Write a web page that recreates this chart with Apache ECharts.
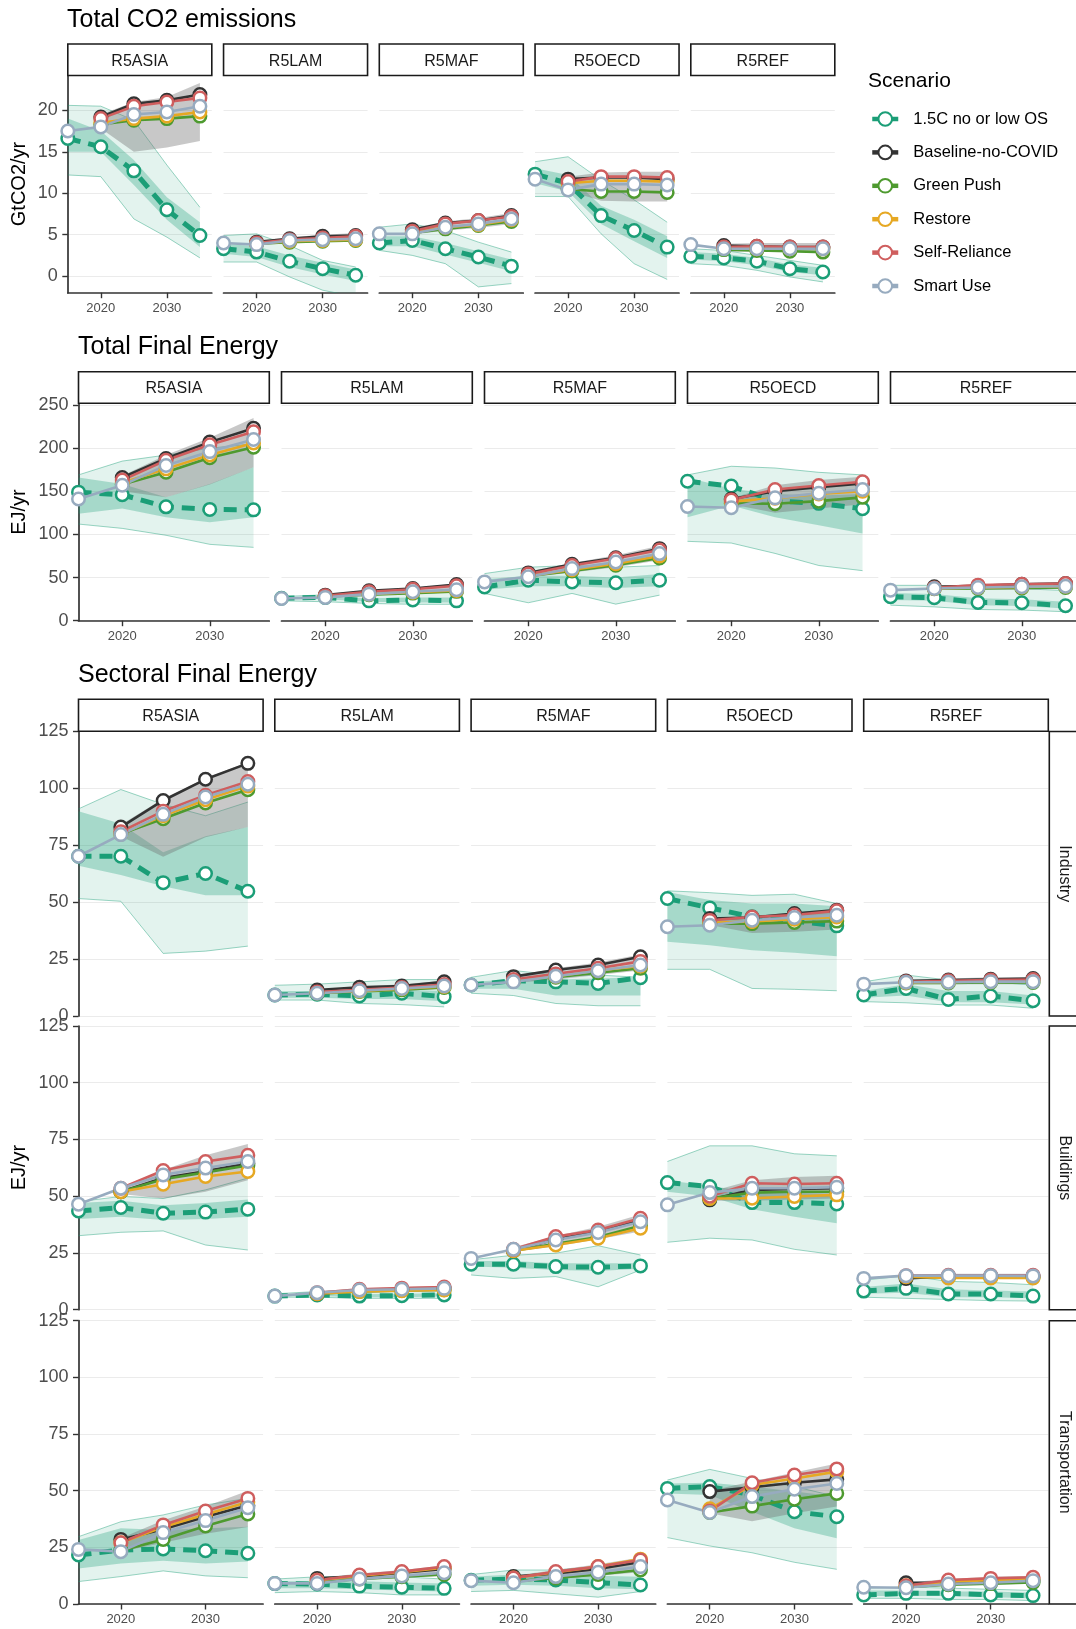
<!DOCTYPE html>
<html><head><meta charset="utf-8">
<script src="https://cdn.jsdelivr.net/npm/echarts@6/dist/echarts.min.js"></script>
<style>html,body{margin:0;padding:0;background:#fff}#chart{width:1076px;height:1629px}</style>
</head><body><div id="chart"></div>
<script>
// ---------------- data ----------------
const YEARS = [2015, 2020, 2025, 2030, 2035];
const REGIONS = ['R5ASIA', 'R5LAM', 'R5MAF', 'R5OECD', 'R5REF'];
const SCENARIOS = ['1.5C no or low OS', 'Baseline-no-COVID', 'Green Push', 'Restore', 'Self-Reliance', 'Smart Use'];
const SECTORS = ['Industry', 'Buildings', 'Transportation'];
const X_TICKS = [2020, 2030];
const CO2_TICKS = [0, 5, 10, 15, 20];
const TFE_TICKS = [0, 50, 100, 150, 200, 250];
const SEC_TICKS = [0, 25, 50, 75, 100, 125];
const N = null;

// Total CO2 emissions (GtCO2/yr), rows = regions, cols = YEARS
const CO2_P15 = [[16.6,15.6,12.7,8.0,4.9],[3.3,2.9,1.8,0.9,0.1],[4.0,4.3,3.3,2.3,1.2],[12.3,11.2,7.3,5.5,3.5],[2.4,2.2,1.8,0.9,0.5]];
const CO2_BASE = [[N,19.2,20.8,21.2,21.9],[N,4.1,4.5,4.8,4.9],[N,5.6,6.4,6.7,7.3],[N,11.7,11.9,11.9,11.7],[N,3.7,3.6,3.5,3.5]];
const CO2_GREEN = [[N,18.3,18.8,19.0,19.3],[N,3.9,4.1,4.2,4.3],[N,5.2,5.7,6.1,6.6],[N,10.5,10.2,10.2,10.1],[N,3.2,3.1,3.0,2.9]];
const CO2_RESTORE = [[N,18.5,19.0,19.3,19.8],[N,3.9,4.2,4.3,4.4],[N,5.3,5.9,6.2,6.8],[N,11.2,11.5,11.5,11.4],[N,3.4,3.3,3.3,3.3]];
const CO2_SELF = [[N,19.0,20.5,21.0,21.5],[N,4.0,4.4,4.6,4.8],[N,5.4,6.3,6.7,7.2],[N,11.4,12.0,12.0,11.9],[N,3.5,3.6,3.5,3.5]];
const CO2_SMART = [[17.5,18.0,19.5,19.8,20.5],[4.0,3.8,4.3,4.4,4.5],[5.1,5.1,5.9,6.3,6.9],[11.7,10.4,11.1,11.1,11.0],[3.8,3.3,3.3,3.3,3.3]];
const CO2_OUT_LO = [[12.2,12.0,6.9,4.7,2.2],[1.7,1.7,-0.1,-1.7,-2.5],[3.1,2.5,1.5,-1.3,-0.9],[9.6,9.6,5.1,1.5,-0.4],[1.5,1.3,0.7,-0.1,-0.7]];
const CO2_OUT_HI = [[20.6,20.5,18.8,13.4,8.3],[4.9,5.1,3.7,1.9,1.1],[5.9,6.3,5.5,4.1,2.9],[13.8,14.4,11.6,9.2,6.5],[3.3,3.1,2.5,1.9,1.3]];
const CO2_IN_LO = [[15.0,15.0,11.0,6.8,3.5],[2.7,2.3,1.1,0.2,-0.6],[3.6,3.6,2.6,1.6,0.6],[11.2,10.2,6.3,4.2,2.2],[2.0,1.8,1.3,0.5,0.1]];
const CO2_IN_HI = [[19.0,17.5,14.0,9.5,6.5],[3.9,3.6,2.5,1.6,0.8],[4.8,4.8,4.0,3.0,2.0],[13.0,12.2,8.5,6.8,4.8],[2.9,2.7,2.2,1.4,1.0]];
const CO2_GREY_LO = [[N,17.8,15.0,15.5,16.3],[N,3.7,4.0,4.1,4.2],[N,5.0,5.5,5.8,6.3],[N,10.3,9.1,9.0,9.0],[N,3.0,2.9,2.9,2.8]];
const CO2_GREY_HI = [[N,19.5,21.0,21.6,23.3],[N,4.3,4.7,5.0,5.2],[N,5.8,6.6,7.0,7.6],[N,12.0,12.5,12.6,12.6],[N,3.9,4.0,4.0,4.0]];

// Total Final Energy (EJ/yr)
const TFE_P15 = [[149,146,132,129,128.5],[26,27,23,24,23],[39,47,45,44,47],[161.7,156,139,136,129.7],[27.7,26.6,21.2,20.8,17.3]];
const TFE_BASE = [[N,166,188,207,223],[N,29.6,34.6,37.3,42],[N,55.4,65.4,73,83.5],[N,141,150,154.7,159],[N,39.3,40.4,42.3,43.1]];
const TFE_GREEN = [[N,158,172,189,201],[N,28,30,32,34],[N,52,57.7,64.3,72.7],[N,136,135.5,138.6,143],[N,37,37.5,38,38.5]];
const TFE_RESTORE = [[N,160,176,192,206],[N,28,31,33,35],[N,52,59,66,75],[N,138,142,147,150],[N,37.5,38.5,39,40]];
const TFE_SELF = [[N,163,186,204,219],[N,29,33.5,36.5,40.5],[N,54,64,72,82],[N,140,152,156.7,161],[N,38,41.2,42.3,43.1]];
const TFE_SMART = [[141,157,180,196,210],[25.8,27,30.8,33.5,36],[45,51,60.4,68,77.8],[132.4,131,142.4,147.8,152],[35.4,37.3,38.5,39.3,40]];
const TFE_OUT_LO = [[112,107,99,88.5,85],[23,22,20,19,19],[31.6,20.8,31.6,19.2,29.6],[92,90,78,64,58],[18,16,13,12.3,10.4]];
const TFE_OUT_HI = [[169,185,192,200,205],[28,30,32,34,35],[54.6,62,64,62,64],[169,179,177,172,169],[41,41,39,37,35]];
const TFE_IN_LO = [[124,130,120,114,120],[25,25,22,21,21],[36,40,40,38,40],[120,133.6,120,110.5,101],[24,23,18,17,14]];
const TFE_IN_HI = [[166,158.6,143,158.6,178],[27,28,26,27,27],[48,52,52,50,54],[166,153,147,145,147],[32,31,26,25,22]];
const TFE_GREY_LO = [[N,150,143,158,178],[N,27,29,31,33],[N,50,56,62,70],[N,135,125,130,135],[N,36,36,36,37]];
const TFE_GREY_HI = [[N,168,192,212,235],[N,30,35,38,43],[N,57,67,76,87],[N,142,157,163,167],[N,40,42,44,45]];

// Sectoral Final Energy - Industry
const IND_P15 = [[70.2,70.2,58.6,62.6,54.8],[9.2,9.6,8.8,10,8.5],[13.6,15.5,15,14.3,16.8],[51.6,47.5,43.6,41.7,39.6],[9.2,12.1,7.3,8.8,6.7]];
const IND_BASE = [[N,83,94.7,104,111],[N,11.4,12.6,13.2,15],[N,17.3,20.2,22.4,26],[N,42.8,43.3,45,46.5],[N,15.4,15.8,16.1,16.5]];
const IND_GREEN = [[N,80,86.7,93.6,99.4],[N,10,10.8,11.5,12.5],[N,15.5,17,19,21],[N,40.5,40.6,41.1,41.7],[N,14.5,14.5,14.7,14.7]];
const IND_RESTORE = [[N,80,88,95,101],[N,10.2,11,12,13],[N,15.5,17.5,20,22],[N,41,41.5,42.5,43.5],[N,14.7,15,15.2,15.5]];
const IND_SELF = [[N,81,90,97,103],[N,10.5,11.5,12.5,13.8],[N,16,18.5,21,24],[N,42,43.5,44.4,46.2],[N,15,15.5,15.8,16]];
const IND_SMART = [[70.2,79.7,88.6,96.2,101.8],[9.2,10,11.1,12.1,13.2],[13.6,15,17.5,19.9,22.4],[39.2,39.9,42.1,43.3,44.3],[14,14.8,14.8,15.1,15.1]];
const IND_OUT_LO = [[51.6,50.4,27.5,28.5,30.7],[7,7,5.5,5,4],[10,9,5.5,4.5,4.5],[20.5,20.5,12.1,11.7,11.1],[6.3,5.8,4.8,4.8,3.4]];
const IND_OUT_HI = [[91,99.5,93,88,94],[13.5,14,15,16,16],[17,20,18,18,17],[55,54.2,53,53.5,49.4],[15,18,15.8,15,13.6]];
const IND_IN_LO = [[66,62,57,53,53],[8,8,7.5,7.5,6.5],[12,12,9,9,9],[32.6,31.1,28.9,27.8,26.3],[8,9,6,6,5]];
const IND_IN_HI = [[90,84.5,72,79,83],[11,11,11,11.5,11],[15,16,16,16.5,17],[54.5,51,49.4,49.4,48.2],[11,14,11,11,9]];
const IND_GREY_LO = [[N,79,70,78.5,83],[N,10,10.5,11,12],[N,14.5,16,18,20],[N,40,36.5,37,38],[N,14,14,14,14]];
const IND_GREY_HI = [[N,84,95.5,104.5,111.5],[N,11.5,13,14,15.5],[N,17.5,21,23.5,27],[N,43,44,45.5,47],[N,16,16.5,17,17]];

// Sectoral Final Energy - Buildings
const BLD_P15 = [[43.5,45,42.5,43,44.3],[6,6.5,6,6.2,6.5],[20,20,19,18.7,19.3],[56,54.3,47.2,47.2,46.6],[8.2,9.4,6.9,6.9,6]];
const BLD_BASE = [[N,52,58,61,64.5],[N,7,8.5,9,9.5],[N,26,31,34.5,39.5],[N,48.4,52.8,53.2,53.5],[N,13.8,14.8,14.8,14.8]];
const BLD_GREEN = [[N,52,57.5,60.5,63.5],[N,7,8,8.5,8.8],[N,26,29,32,37],[N,49,51.6,52,52],[N,14.5,14.3,14.3,14.3]];
const BLD_RESTORE = [[N,52,55.3,58.7,60.9],[N,7,8,8.4,8.7],[N,26,28.5,31.5,35.9],[N,49,49.1,49.9,50.6],[N,14.5,14,14,14]];
const BLD_SELF = [[N,53.5,61.3,65.3,68],[N,7.5,9,9.5,10],[N,26.6,32.2,35.1,40.3],[N,50,55.7,55.4,55.7],[N,15,15.2,15.2,15.2]];
const BLD_SMART = [[46.5,53.5,59.4,62.4,65.3],[6,7.5,8.7,9,9.4],[22.6,26.6,30.7,34,38.8],[46.2,51.6,53.5,53.5,54],[13.8,15,15,15,14.9]];
const BLD_OUT_LO = [[32.6,34.1,34.7,28.5,26.3],[5.5,5.5,5,5,5],[15.3,13.8,14.6,10.1,17.5],[29.7,31.5,30.7,26.6,24.1],[5.5,5,4.5,4,3.8]];
const BLD_OUT_HI = [[47.6,49.9,49,52.8,58],[7,8,8.5,9,9.5],[22,24,24.9,28.2,24.1],[65.3,72.2,72.2,68.7,67.8],[13,15,12.5,12,11]];
const BLD_IN_LO = [[40,41,39.5,40,41],[5.8,6,5.5,5.5,5.8],[19,18.5,17.5,17,18],[52,49.9,44.3,41,38.1],[7,7.5,5.5,5.5,5]];
const BLD_IN_HI = [[47,48,46,47,48.5],[6.5,7,6.8,7,7.2],[21.5,21.5,20.5,20.5,20.5],[57,54.5,52,51.5,51],[10,11.5,9,8.5,8]];
const BLD_GREY_LO = [[N,51,49,52,57],[N,6.8,7.5,7.8,8],[N,25.5,28,31,34.5],[N,48,48,48.5,49],[N,13.5,13.5,13.5,13.5]];
const BLD_GREY_HI = [[N,54,61.5,68,73],[N,8,9.5,10,10.5],[N,27.5,32.5,36.5,42],[N,52,57,58.5,59],[N,15.5,15.8,15.8,15.8]];

// Sectoral Final Energy - Transportation
const TRN_P15 = [[21.6,23.8,24.3,23.5,22.4],[9,8.8,7.9,7.4,6.9],[10.5,11,10.6,9.4,8.4],[51,51.8,48.1,40.7,38.5],[4,4.7,4.7,4,3.7]];
const TRN_BASE = [[N,28.5,33,38.5,43.5],[N,11.3,12.2,13.8,15.5],[N,12.1,13.5,15.5,18.5],[N,49.6,51.5,53.5,55],[N,9.4,9.5,10,10.5]];
const TRN_GREEN = [[N,23.5,28.5,34.4,39.7],[N,9.5,11,12,13],[N,10,11.5,13,15],[N,40.4,43.2,46.2,48.8],[N,7.5,8.5,9,9.5]];
const TRN_RESTORE = [[N,27,34,39.5,45],[N,10.5,12.5,14,16],[N,11.5,14,16.5,19.8],[N,42,52.5,55.4,58.4],[N,8,9.8,10.5,11]];
const TRN_SELF = [[N,27,34.9,41,46.6],[N,10.5,12.8,14.3,16.5],[N,11.5,14.3,16.5,19.4],[N,41,53.5,56.9,59.6],[N,8,10.6,11.3,11.8]];
const TRN_SMART = [[24.1,23.1,31.5,36.8,42.5],[9.1,9.1,11,12.4,13.8],[10.3,9.4,12.1,14,16.5],[45.9,40.4,47.4,50.6,53.2],[7.4,7.2,8.8,9.4,10.3]];
const TRN_OUT_LO = [[9.9,12.1,14.6,12.4,11.6],[5,5.5,5,4,4],[5.5,6,4.5,3,5.5],[29.3,25.6,22.6,18.4,15.3],[2.5,2.5,2,2,1.5]];
const TRN_OUT_HI = [[29.7,36.3,39.3,43.7,46.6],[11,12,12,12,11],[13,15,15,16.5,18],[54.7,59.4,55.4,51.8,47.4],[7,7.5,7,6.5,6]];
const TRN_IN_LO = [[15.7,17.9,19.1,17.9,18.7],[7,7,6.5,6,5.5],[8,8.5,8,7,6.5],[48.8,48.1,40.7,33.4,29],[3.5,3.5,3.5,3,2.5]];
const TRN_IN_HI = [[28.2,33.4,32.6,33.4,34.1],[10,10,10,9.5,9],[12,13,12.5,12.5,12],[53.2,53.5,51.8,49.6,47.4],[6,6,5.5,5.5,5]];
const TRN_GREY_LO = [[N,23,27,31,34],[N,9.5,10.5,11.5,12.5],[N,10,11,12.5,14],[N,40,36.5,40,43],[N,7,8,8.5,9]];
const TRN_GREY_HI = [[N,29,37,43,50],[N,11.5,13.5,15,17],[N,12.5,15,17.5,20.5],[N,50,54,58,62],[N,9.5,11,12,12.5]];

// ---------------- styles / layout ----------------
const FONT = "'Liberation Sans', Arial, Helvetica, sans-serif";
const COLORS = ['#1B9E77', '#333333', '#4E9A2F', '#E6A823', '#CF5E5E', '#97ABBF'];
const OUTER_FILL = 'rgba(27,158,119,0.12)';
const OUTER_EDGE = 'rgba(27,158,119,0.55)';
const INNER_FILL = 'rgba(27,158,119,0.30)';
const GREY_FILL = 'rgba(110,110,110,0.38)';
const AXIS_C = '#333333';
const X_MIN = 2015, X_MAX = 2036.8;

function measure(p15, base, green, restore, self, smart, oLo, oHi, iLo, iHi, gLo, gHi) {
  return { lines: [p15, base, green, restore, self, smart], oLo, oHi, iLo, iHi, gLo, gHi };
}
const CO2 = measure(CO2_P15, CO2_BASE, CO2_GREEN, CO2_RESTORE, CO2_SELF, CO2_SMART, CO2_OUT_LO, CO2_OUT_HI, CO2_IN_LO, CO2_IN_HI, CO2_GREY_LO, CO2_GREY_HI);
const TFE = measure(TFE_P15, TFE_BASE, TFE_GREEN, TFE_RESTORE, TFE_SELF, TFE_SMART, TFE_OUT_LO, TFE_OUT_HI, TFE_IN_LO, TFE_IN_HI, TFE_GREY_LO, TFE_GREY_HI);
const IND = measure(IND_P15, IND_BASE, IND_GREEN, IND_RESTORE, IND_SELF, IND_SMART, IND_OUT_LO, IND_OUT_HI, IND_IN_LO, IND_IN_HI, IND_GREY_LO, IND_GREY_HI);
const BLD = measure(BLD_P15, BLD_BASE, BLD_GREEN, BLD_RESTORE, BLD_SELF, BLD_SMART, BLD_OUT_LO, BLD_OUT_HI, BLD_IN_LO, BLD_IN_HI, BLD_GREY_LO, BLD_GREY_HI);
const TRN = measure(TRN_P15, TRN_BASE, TRN_GREEN, TRN_RESTORE, TRN_SELF, TRN_SMART, TRN_OUT_LO, TRN_OUT_HI, TRN_IN_LO, TRN_IN_HI, TRN_GREY_LO, TRN_GREY_HI);

const grids = [], xAxes = [], yAxes = [], series = [], graphics = [];

function bandRenderer(m, r) {
  return function (params, api) {
    function pts(lo, hi) {
      const top = [], bot = [];
      YEARS.forEach((y, i) => {
        if (lo[r][i] == null || hi[r][i] == null) return;
        top.push(api.coord([y, hi[r][i]]));
        bot.push(api.coord([y, lo[r][i]]));
      });
      return { top, bot, poly: top.concat(bot.slice().reverse()) };
    }
    const o = pts(m.oLo, m.oHi), n = pts(m.iLo, m.iHi), g = pts(m.gLo, m.gHi);
    return {
      type: 'group',
      children: [
        { type: 'polygon', shape: { points: o.poly }, style: { fill: OUTER_FILL, stroke: 'none' } },
        { type: 'polyline', shape: { points: o.top }, style: { fill: 'none', stroke: OUTER_EDGE, lineWidth: 0.8 } },
        { type: 'polyline', shape: { points: o.bot }, style: { fill: 'none', stroke: OUTER_EDGE, lineWidth: 0.8 } },
        { type: 'polygon', shape: { points: n.poly }, style: { fill: INNER_FILL, stroke: 'none' } },
        { type: 'polygon', shape: { points: g.poly }, style: { fill: GREY_FILL, stroke: 'none' } }
      ]
    };
  };
}

function addPanel(p) {
  const gi = grids.length;
  grids.push({ left: p.left, top: p.top, width: p.width, height: p.height, containLabel: false, outerBoundsMode: 'none' });
  xAxes.push({
    gridIndex: gi, type: 'value', min: X_MIN, max: X_MAX,
    axisLine: { show: p.showX, onZero: false, lineStyle: { color: AXIS_C, width: 1.7 } },
    axisTick: { show: p.showX, length: 5.5, customValues: X_TICKS, lineStyle: { color: AXIS_C, width: 1.4 } },
    axisLabel: { show: p.showX, customValues: X_TICKS, margin: 9, color: '#4D4D4D', fontSize: 13, fontFamily: FONT,
      formatter: v => String(Math.round(v)) },
    splitLine: { show: false }
  });
  yAxes.push({
    gridIndex: gi, type: 'value', min: p.ymin, max: p.ymax,
    axisLine: { show: p.showY, onZero: false, lineStyle: { color: AXIS_C, width: 1.7 } },
    axisTick: { show: p.showY, length: 5.5, customValues: p.yticks, lineStyle: { color: AXIS_C, width: 1.4 } },
    axisLabel: { show: p.showY, customValues: p.yticks, margin: 10, color: '#4D4D4D', fontSize: 18, fontFamily: FONT,
      formatter: v => String(v) },
    splitLine: { show: true, lineStyle: { color: '#EBEBEB', width: 1 } }
  });
  const m = p.m, r = p.r;
  series.push({
    type: 'custom', coordinateSystem: 'cartesian2d', xAxisIndex: gi, yAxisIndex: gi,
    clip: true, silent: true, z: 1, data: [[2025, (p.ymin + p.ymax) / 2]],
    renderItem: bandRenderer(m, r)
  });
  SCENARIOS.forEach((s, k) => {
    const d = [];
    YEARS.forEach((y, i) => { const v = m.lines[k][r][i]; if (v != null) d.push([y, v]); });
    series.push({
      type: 'line', name: s, xAxisIndex: gi, yAxisIndex: gi, data: d, z: 2, silent: true, clip: true,
      symbol: 'emptyCircle', showSymbol: false, color: COLORS[k], itemStyle: { color: COLORS[k] },
      lineStyle: { color: COLORS[k], width: k === 0 ? 5 : 2.6, type: k === 0 ? [13, 8] : 'solid', cap: 'butt' }
    });
  });
  SCENARIOS.forEach((s, k) => {
    const d = [];
    YEARS.forEach((y, i) => { const v = m.lines[k][r][i]; if (v != null) d.push([y, v]); });
    series.push({
      type: 'scatter', name: s, xAxisIndex: gi, yAxisIndex: gi, data: d, z: 3, silent: true, clip: false,
      symbol: 'circle', symbolSize: 12.5,
      itemStyle: { color: '#ffffff', borderColor: COLORS[k], borderWidth: 2.5, opacity: 1 }
    });
  });
}

function text(x, y, str, size, color, align, rot) {
  graphics.push({
    type: 'text', x: x, y: y, rotation: rot || 0, silent: true, z: 10,
    style: { text: str, x: 0, y: 0, fill: color, font: size + 'px ' + FONT,
      align: align, textAlign: align, verticalAlign: 'middle', textVerticalAlign: 'middle' }
  });
}
function strip(x, y, w, h, label, vertical) {
  graphics.push({ type: 'rect', silent: true, z: 9, shape: { x: x, y: y, width: w, height: h },
    style: { fill: '#ffffff', stroke: '#1A1A1A', lineWidth: 1.6 } });
  if (vertical) text(x + w / 2 - 1, y + h / 2, label, 16, '#1A1A1A', 'center', -Math.PI / 2);
  else text(x + w / 2, y + h / 2 + 1.5, label, 16, '#1A1A1A', 'center', 0);
}

// Section 1: Total CO2 emissions
text(67, 20.5, 'Total CO2 emissions', 25, '#000', 'left');
text(19, 184, 'GtCO2/yr', 20, '#000', 'center', Math.PI / 2);
REGIONS.forEach((reg, r) => {
  const left = 67.8 + r * 155.75, w = 144;
  strip(left, 44, w, 31.5, reg, false);
  addPanel({ left, top: 75.5, width: w, height: 292.7 - 75.5, ymin: -2, ymax: 24.2, yticks: CO2_TICKS,
    showX: true, showY: r === 0, m: CO2, r });
});

// Section 2: Total Final Energy
text(78, 347.5, 'Total Final Energy', 25, '#000', 'left');
text(19, 512, 'EJ/yr', 20, '#000', 'center', Math.PI / 2);
REGIONS.forEach((reg, r) => {
  const left = 78.5 + r * 203, w = 190.8;
  strip(left, 371.7, w, 31.6, reg, false);
  addPanel({ left, top: 403.3, width: w, height: 620.7 - 403.3, ymin: 0, ymax: 252, yticks: TFE_TICKS,
    showX: true, showY: r === 0, m: TFE, r });
});

// Section 3: Sectoral Final Energy
text(78, 675.5, 'Sectoral Final Energy', 25, '#000', 'left');
text(19, 1167.5, 'EJ/yr', 20, '#000', 'center', Math.PI / 2);
const SEC_ROWS = [[731.5, 1016], [1026, 1309.7], [1320.7, 1604]];
const SEC_MEASURES = [IND, BLD, TRN];
SECTORS.forEach((sec, si) => {
  const top = SEC_ROWS[si][0], bottom = SEC_ROWS[si][1];
  strip(1049.3, top, 32, bottom - top, sec, true);
  REGIONS.forEach((reg, r) => {
    const left = 78.5 + r * 196.3, w = 184.6;
    if (si === 0) strip(left, 699.3, w, 32, reg, false);
    addPanel({ left, top, width: w, height: bottom - top, ymin: 0, ymax: 125, yticks: SEC_TICKS,
      showX: si === 2, showY: r === 0, m: SEC_MEASURES[si], r });
  });
});

// Legend title
text(868, 81, 'Scenario', 21, '#000', 'left');

const chart = echarts.init(document.getElementById('chart'), null, { renderer: 'canvas' });
chart.setOption({
  animation: false,
  backgroundColor: '#ffffff',
  grid: grids,
  xAxis: xAxes,
  yAxis: yAxes,
  series: series,
  graphic: { elements: graphics },
  legend: {
    show: true, orient: 'vertical', left: 870, top: 110.5, padding: 0,
    itemWidth: 26, itemHeight: 17, itemGap: 16.4,
    selectedMode: false, data: SCENARIOS,
    textStyle: { fontFamily: FONT, fontSize: 16.5, color: '#000', padding: [0, 0, 0, 10] },
    lineStyle: { type: 'solid', width: 4.5 }
  }
});
</script>
</body></html>
